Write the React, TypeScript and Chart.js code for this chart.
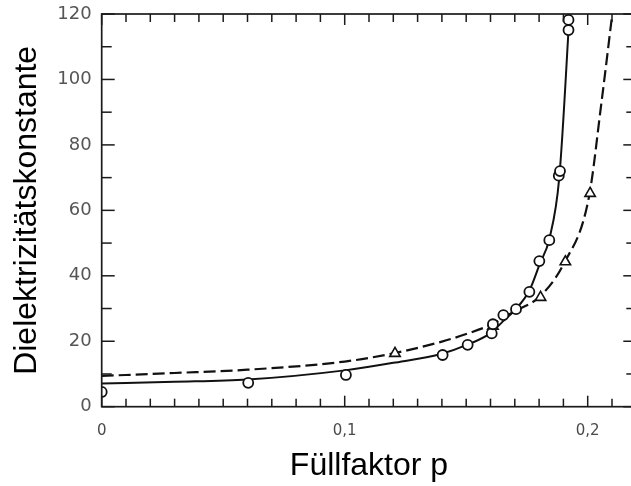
import React, { useEffect, useRef } from "react";
import { Chart, registerables } from "chart.js";

Chart.register(...registerables);

// Tick labels
const xTickValues = [0, 0.1, 0.2];
const xTickLabels = ["0", "0,1", "0,2"];
const yTickValues = [0, 20, 40, 60, 80, 100, 120];
const yTickLabels = ["0", "20", "40", "60", "80", "100", "120"];

// Measured points (circles)
const circleX = [0, 0.0603, 0.1005, 0.1403, 0.1506, 0.1605, 0.161, 0.1653, 0.1705, 0.176, 0.1801, 0.1842, 0.1881, 0.1886, 0.1921, 0.1921];
const circleY = [4.5, 7.3, 9.7, 15.8, 18.9, 22.4, 25.2, 28.0, 29.8, 35.1, 44.5, 50.9, 70.6, 72.0, 115.1, 118.2];

// Measured points (triangles)
const triangleX = [0.1207, 0.161, 0.1806, 0.1908, 0.201];
const triangleY = [16.3, 24.6, 33.4, 44.3, 65.2];

// Solid curve
const solidX = [0, 0.03, 0.06, 0.1, 0.12, 0.14, 0.15, 0.16, 0.165, 0.17, 0.176, 0.1802, 0.1843, 0.1883, 0.1925, 0.1929];
const solidY = [7.1, 7.6, 8.3, 11.1, 13.4, 16.2, 18.8, 22.5, 26.0, 29.5, 35.5, 43.5, 51.5, 70.0, 120, 125];

// Dashed curve
const dashedX = [0, 0.03, 0.06, 0.1, 0.12, 0.14, 0.15, 0.16, 0.17, 0.18, 0.19, 0.2005, 0.2055, 0.2101, 0.2109];
const dashedY = [9.4, 10.3, 11.3, 13.8, 16.3, 19.9, 22.2, 25.0, 29.2, 33.5, 43.5, 64.0, 92.0, 120, 125];

const X_MIN = 0;
const X_MAX = 0.22;
const Y_MIN = 0;
const Y_MAX = 120;
const X_MINOR_STEP = 0.01;
const Y_MINOR_STEP = 10;

const toPts = (xs: number[], ys: number[]) => xs.map((x, i) => ({ x, y: ys[i] }));

const frameTicks = {
  id: "frameTicks",
  afterDatasetsDraw(chart: any) {
    const { ctx, chartArea: a, scales } = chart;
    const xs = scales.x;
    const ys = scales.y;
    ctx.save();
    ctx.strokeStyle = "#1a1a1a";
    ctx.lineWidth = 1.7;
    ctx.strokeRect(a.left, a.top, a.right - a.left, a.bottom - a.top);
    ctx.lineWidth = 1.5;
    const seg = (x1: number, y1: number, x2: number, y2: number) => {
      ctx.beginPath();
      ctx.moveTo(x1, y1);
      ctx.lineTo(x2, y2);
      ctx.stroke();
    };
    const nx = Math.round((X_MAX - X_MIN) / X_MINOR_STEP);
    for (let i = 0; i <= nx; i++) {
      const v = X_MIN + i * X_MINOR_STEP;
      const px = xs.getPixelForValue(v);
      const len = i % 10 === 0 ? 11 : 8;
      seg(px, a.bottom, px, a.bottom - len);
      seg(px, a.top, px, a.top + len);
    }
    const ny = Math.round((Y_MAX - Y_MIN) / Y_MINOR_STEP);
    for (let i = 0; i <= ny; i++) {
      const v = Y_MIN + i * Y_MINOR_STEP;
      const py = ys.getPixelForValue(v);
      const len = i % 2 === 0 ? 13 : 10;
      seg(a.left, py, a.left + len, py);
      seg(a.right, py, a.right - len, py);
    }
    ctx.restore();
  },
};

export default function App() {
  const canvasRef = useRef<HTMLCanvasElement | null>(null);

  useEffect(() => {
    document.body.style.margin = "0";
    const canvas = canvasRef.current;
    if (!canvas) return;
    const chart = new Chart(canvas, {
      type: "scatter",
      data: {
        datasets: [
          {
            label: "solid",
            data: toPts(solidX, solidY),
            showLine: true,
            borderColor: "#111",
            borderWidth: 2,
            pointRadius: 0,
            cubicInterpolationMode: "monotone",
            order: 3,
          } as any,
          {
            label: "dashed",
            data: toPts(dashedX, dashedY),
            showLine: true,
            borderColor: "#111",
            borderWidth: 2.2,
            borderDash: [12, 5],
            pointRadius: 0,
            cubicInterpolationMode: "monotone",
            order: 4,
          } as any,
          {
            label: "circles",
            data: toPts(circleX, circleY),
            pointStyle: "circle",
            pointRadius: 5,
            backgroundColor: "#fff",
            borderColor: "#111",
            borderWidth: 1.8,
            order: 1,
          },
          {
            label: "triangles",
            data: toPts(triangleX, triangleY),
            pointStyle: "triangle",
            pointRadius: 6,
            backgroundColor: "#fff",
            borderColor: "#111",
            borderWidth: 1.6,
            order: 2,
          },
        ],
      },
      options: {
        animation: false,
        responsive: true,
        maintainAspectRatio: false,
        layout: { padding: { top: 14, right: 13.7, left: 0, bottom: 0 } },
        plugins: {
          legend: { display: false },
          tooltip: { enabled: false },
        },
        scales: {
          x: {
            type: "linear",
            min: X_MIN,
            max: X_MAX,
            grid: { display: false, drawTicks: false },
            border: { display: false },
            afterBuildTicks: (scale: any) => {
              scale.ticks = xTickValues.map((v) => ({ value: v }));
            },
            afterFit: (scale: any) => {
              scale.height = 79.3;
              scale.paddingLeft = 0;
              scale.paddingRight = 0;
            },
            ticks: {
              padding: 15,
              maxRotation: 0,
              autoSkip: false,
              color: "#4a4a4a",
              font: { family: "DejaVu Sans", size: 15 },
              callback: (v: any) => {
                const i = xTickValues.findIndex((t) => Math.abs(t - Number(v)) < 1e-9);
                return i >= 0 ? xTickLabels[i] : "";
              },
            },
            title: {
              display: true,
              text: "Füllfaktor p",
              color: "#000",
              font: { family: "Liberation Sans", size: 32 },
              padding: { top: 0, bottom: 1 },
            },
          },
          y: {
            type: "linear",
            min: Y_MIN,
            max: Y_MAX,
            grid: { display: false, drawTicks: false },
            border: { display: false },
            afterBuildTicks: (scale: any) => {
              scale.ticks = yTickValues.map((v) => ({ value: v }));
            },
            afterFit: (scale: any) => {
              scale.width = 101.7;
              scale.paddingTop = 0;
              scale.paddingBottom = 0;
            },
            ticks: {
              padding: 10,
              autoSkip: false,
              color: "#555",
              font: { family: "DejaVu Sans", size: 18 },
              callback: (v: any) => {
                const i = yTickValues.findIndex((t) => Math.abs(t - Number(v)) < 1e-9);
                return i >= 0 ? yTickLabels[i] : "";
              },
            },
            title: {
              display: true,
              text: "Dielektrizitätskonstante",
              color: "#000",
              font: { family: "Liberation Sans", size: 32 },
              padding: { top: 8, bottom: 0 },
            },
          },
        },
      },
      plugins: [frameTicks],
    });
    return () => chart.destroy();
  }, []);

  return (
    <div style={{ position: "absolute", left: 0, top: 0, width: 631, height: 486, overflow: "hidden" }}>
      <div style={{ position: "relative", width: 650, height: 486 }}>
        <canvas ref={canvasRef} />
      </div>
    </div>
  );
}
